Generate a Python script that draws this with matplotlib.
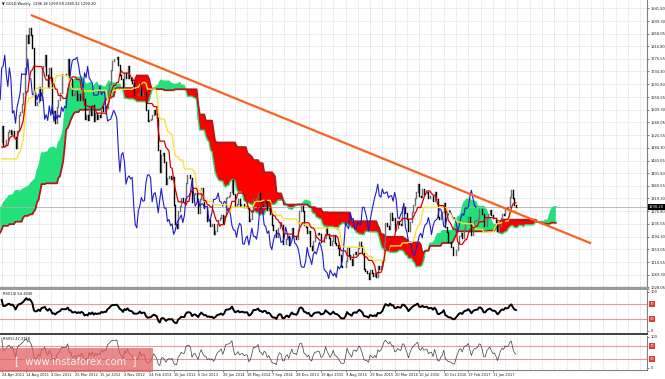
import numpy as np
import pandas as pd
import matplotlib
matplotlib.use('Agg')
import matplotlib.pyplot as plt
import matplotlib.transforms as mtransforms
from matplotlib.patches import Rectangle

# GOLD weekly closes. week 0 = 24 Apr 2011 (first bar on screen),
# the bars before it (from 25 Oct 2009) only feed the shifted Ichimoku cloud
first_week = -78
close_2009 = [1045, 1095, 1118, 1144, 1175, 1165, 1121, 1108, 1104, 1096]
close_2010 = [1138, 1130, 1091, 1083, 1065, 1092, 1120, 1117, 1133, 1103, 1105, 1105, 1125,
              1161, 1138, 1142, 1178, 1208, 1228, 1176, 1213, 1216, 1228, 1256, 1256, 1210,
              1209, 1189, 1189, 1181, 1205, 1215, 1227, 1236, 1247, 1246, 1275, 1296, 1317,
              1346, 1369, 1326, 1358, 1394, 1366, 1353, 1362, 1405, 1384, 1378, 1380, 1421]
close_2011 = [1369, 1360, 1341, 1341, 1348, 1360, 1388, 1410, 1429, 1421, 1418, 1427, 1429,
              1474, 1486, 1504, 1556, 1491, 1493, 1511, 1536, 1542, 1529, 1539, 1521, 1483,
              1541, 1593, 1602, 1628, 1663, 1744, 1852, 1828, 1877, 1855, 1812, 1657, 1624,
              1636, 1682, 1642, 1745, 1753, 1788, 1724, 1685, 1746, 1712, 1598, 1606, 1565]
close_2012 = [1617, 1640, 1664, 1727, 1725, 1725, 1724, 1775, 1711, 1710, 1658, 1662, 1669,
              1641, 1660, 1642, 1664, 1645, 1578, 1593, 1574, 1622, 1591, 1625, 1571, 1598,
              1579, 1591, 1584, 1618, 1604, 1620, 1616, 1672, 1692, 1738, 1770, 1774, 1774,
              1781, 1757, 1724, 1711, 1677, 1730, 1714, 1751, 1713, 1705, 1697, 1657, 1657, 1656]
close_2013 = [1661, 1687, 1658, 1667, 1667, 1609, 1572, 1576, 1578, 1592, 1607, 1596, 1581,
              1476, 1406, 1462, 1469, 1437, 1366, 1386, 1393, 1383, 1388, 1298, 1234, 1223,
              1277, 1295, 1322, 1310, 1312, 1371, 1396, 1396, 1387, 1308, 1333, 1338, 1310,
              1272, 1316, 1352, 1315, 1287, 1288, 1244, 1250, 1230, 1236, 1202, 1213, 1236]
close_2014 = [1248, 1254, 1265, 1240, 1263, 1319, 1324, 1327, 1339, 1379, 1335, 1294, 1302,
              1318, 1294, 1300, 1302, 1290, 1293, 1292, 1246, 1252, 1274, 1316, 1316, 1320,
              1337, 1310, 1307, 1294, 1310, 1306, 1280, 1287, 1268, 1231, 1216, 1215, 1192,
              1222, 1238, 1231, 1171, 1169, 1188, 1196, 1167, 1192, 1222, 1195, 1195, 1186]
close_2015 = [1216, 1277, 1293, 1279, 1233, 1227, 1205, 1213, 1165, 1152, 1181, 1199, 1201,
              1206, 1203, 1175, 1178, 1189, 1225, 1204, 1189, 1168, 1180, 1201, 1173, 1168,
              1157, 1133, 1098, 1094, 1094, 1113, 1159, 1134, 1121, 1103, 1137, 1145, 1137,
              1156, 1176, 1163, 1141, 1088, 1081, 1076, 1057, 1085, 1075, 1066, 1075, 1061]
close_2016 = [1097, 1089, 1097, 1117, 1173, 1239, 1229, 1220, 1271, 1250, 1254, 1217, 1221,
              1242, 1235, 1232, 1290, 1290, 1273, 1252, 1213, 1243, 1275, 1298, 1322, 1340,
              1366, 1328, 1323, 1350, 1335, 1337, 1341, 1321, 1327, 1328, 1310, 1339, 1316,
              1257, 1252, 1267, 1276, 1304, 1225, 1208, 1178, 1177, 1160, 1134, 1133, 1152]
close_2017 = [1173, 1197, 1205, 1190, 1220, 1234, 1237, 1257, 1234, 1201, 1229, 1245, 1249,
              1254, 1285, 1284, 1268, 1228, 1228, 1254, 1267, 1280, 1266, 1254, 1256, 1242,
              1212, 1228, 1254, 1269, 1264, 1289, 1286, 1291, 1325, 1346, 1320, 1297, 1290]

date_labels = ['24 Apr 2011', '14 Aug 2011', '4 Dec 2011', '25 Mar 2012', '15 Jul 2012',
               '4 Nov 2012', '24 Feb 2013', '16 Jun 2013', '6 Oct 2013', '26 Jan 2014',
               '18 May 2014', '7 Sep 2014', '28 Dec 2014', '19 Apr 2015', '9 Aug 2015',
               '29 Nov 2015', '20 Mar 2016', '10 Jul 2016', '30 Oct 2016', '19 Feb 2017',
               '11 Jun 2017']
price_ticks = ['1941.80', '1899.30', '1858.05', '1816.80', '1775.55', '1734.30', '1691.80',
               '1650.55', '1609.30', '1568.05', '1525.55', '1484.30', '1443.05', '1401.80',
               '1360.55', '1319.30', '1276.80', '1235.55', '1194.30', '1153.05', '1110.55',
               '1069.30', '1028.05']
rsi_levels = [70, 30]

# orange resistance line drawn on the chart
trend_weeks = [19, 384]
trend_prices = [1919, 1172]

title = '\u25bc GOLD,Weekly  1296.18 1299.58 1280.32 1290.20'
last_price = 1290.20
rsi14_label = 'RSI(14) 54.3940'
rsi5_label = 'RSI(5) 47.3728'

# ---- series ----
closes = pd.Series(close_2009 + close_2010 + close_2011 + close_2012 + close_2013 +
                   close_2014 + close_2015 + close_2016 + close_2017, dtype=float)
closes.index = np.arange(len(closes)) + first_week


def mid(n):
    return (closes.rolling(n).max() + closes.rolling(n).min()) / 2


tenkan = mid(9)
kijun = mid(26)
span_a = (tenkan + kijun) / 2
span_b = mid(52)
cloud_x = closes.index.values + 26

delta = closes.diff()
gain = delta.clip(lower=0)
loss = -delta.clip(upper=0)


def rsi(n):
    g = gain.ewm(alpha=1 / n, adjust=False).mean()
    l = loss.ewm(alpha=1 / n, adjust=False).mean()
    return 100 - 100 / (1 + g / l)


rsi14 = rsi(14)
rsi5 = rsi(5)

# ---- figure ----
W, H = 665, 379
fig = plt.figure(figsize=(W / 100, H / 100), dpi=100)
fig.patch.set_facecolor('white')
ax = fig.add_axes([0, 1 - 288 / H, 647 / W, 288 / H])
ax2 = fig.add_axes([0, 1 - 334 / H, 647 / W, 44 / H], sharex=ax)
ax3 = fig.add_axes([0, 1 - 370 / H, 647 / W, 34 / H], sharex=ax)

grid_kw = dict(color='#c4c4c4', linestyle=(0, (1, 1.5)), linewidth=0.5)
fs = 2.6

for a in (ax, ax2, ax3):
    a.set_facecolor('white')
    for side in ('top', 'left'):
        a.spines[side].set_visible(False)
    a.spines['right'].set_color('#808080')
    a.spines['right'].set_linewidth(0.8)
    a.yaxis.tick_right()
    a.set_xticks(np.arange(0, 321, 16))
    a.set_xticks(np.arange(0, 421, 8), minor=True)
    a.grid(axis='x', which='both', **grid_kw)
    a.tick_params(axis='both', which='both', labelsize=fs, length=1.5, width=0.4,
                  pad=1, colors='#222222')
    a.tick_params(axis='x', which='minor', length=0)
    a.set_axisbelow(True)

ax.spines['bottom'].set_color('#9a9a9a')
ax.spines['bottom'].set_linewidth(2.4)
ax2.spines['bottom'].set_color('#404040')
ax2.spines['bottom'].set_linewidth(1.4)
ax3.spines['bottom'].set_color('#808080')
ax3.spines['bottom'].set_linewidth(0.8)

ax.set_xlim(-1.1, 420.4)
ax.set_ylim(1026.2, 1968.0)

# cloud
cm = cloud_x >= -2
cx = cloud_x[cm]
a_v = span_a.values[cm]
b_v = span_b.values[cm]
green = '#22e07a'
ax.fill_between(cx, a_v, b_v, where=a_v >= b_v, interpolate=True, color=green, lw=0, zorder=1)
ax.fill_between(cx, a_v, b_v, where=a_v < b_v, interpolate=True, color='#ff0000', lw=0, zorder=1)
ax.plot(cx, a_v, color=green, lw=1.0, zorder=2)
ax.plot(cx, b_v, color='#b01818', lw=1.3, zorder=2)

# last price line
ax.axhline(last_price, color='#b0b0b0', lw=0.6, zorder=1.5)

# candles
vis = closes.index >= 0
wk = closes.index[vis]
c = closes[vis]
o = closes.shift(1)[vis]
up = (c >= o).values
ax.vlines(wk[up], o[up], c[up], color='#6e6e6e', lw=1.0, capstyle='projecting', zorder=3)
ax.vlines(wk[~up], c[~up], o[~up], color='#000000', lw=1.0, capstyle='projecting', zorder=3)

# Ichimoku lines
ax.plot(wk - 26, c, color='#1c1ccc', lw=0.8, zorder=4)
ax.plot(wk, kijun[vis], color='#f4e43c', lw=1.0, zorder=4)
ax.plot(wk, tenkan[vis], color='#d40000', lw=0.9, zorder=4)

# trend line
ax.plot(trend_weeks, trend_prices, color='#f26522', lw=1.6, zorder=5, solid_capstyle='butt')

ax.set_yticks([float(t) for t in price_ticks])
ax.set_yticklabels(price_ticks)
ax.grid(axis='y', **grid_kw)
ax.tick_params(axis='x', labelbottom=False, length=0)

tr = mtransforms.blended_transform_factory(ax.transAxes, ax.transData)
ax.text(1.003, last_price, '%.2f' % last_price, transform=tr, fontsize=fs, color='white',
        ha='left', va='center', zorder=6, clip_on=False,
        bbox=dict(boxstyle='square,pad=0.25', fc='black', ec='none'))

fig.text(2 / W, 1 - 4.5 / H, title, fontsize=fs, color='#111111', ha='left', va='center')

# RSI panels
for a, series, lab, lw, col, lo in ((ax2, rsi14, rsi14_label, 1.4, '#000000', -7.7),
                                    (ax3, rsi5, rsi5_label, 0.5, '#3c3c3c', -6.5)):
    if a is ax2:
        a.set_ylim(-7.7, 105.1)
    else:
        a.set_ylim(-6.5, 103.2)
    for lev in rsi_levels:
        a.axhline(lev, color='#e59a9a', lw=0.8, zorder=1)
    a.plot(wk, series[vis], color=col, lw=lw, zorder=3)
    a.set_yticks([0, 100])
    a.set_yticklabels(['0', '100'])
    t = mtransforms.blended_transform_factory(a.transAxes, a.transData)
    for lev in rsi_levels:
        a.text(1.004, lev, str(lev), transform=t, fontsize=fs, color='white', ha='left',
               va='center', clip_on=False,
               bbox=dict(boxstyle='square,pad=0.25', fc='#e23a3a', ec='none'))
    a.text(0.004, 0.96, lab, transform=a.transAxes, fontsize=fs, color='#111111',
           ha='left', va='top')

ax2.tick_params(axis='x', labelbottom=False, length=0)
ax3.set_xticklabels(date_labels)
for lbl in ax3.get_xticklabels():
    lbl.set_ha('left')

# watermark
fig.patches.append(Rectangle((0, 1 - 372 / H), 153 / W, 24 / H, transform=fig.transFigure,
                             facecolor='#e25c5c', edgecolor='none', alpha=0.72))
fig.text(76 / W, 1 - 361 / H, '[  www.instaforex.com  ]', fontsize=7.2, color='#f2f2f2',
         ha='center', va='center')

fig.savefig('out.png', dpi=100)
